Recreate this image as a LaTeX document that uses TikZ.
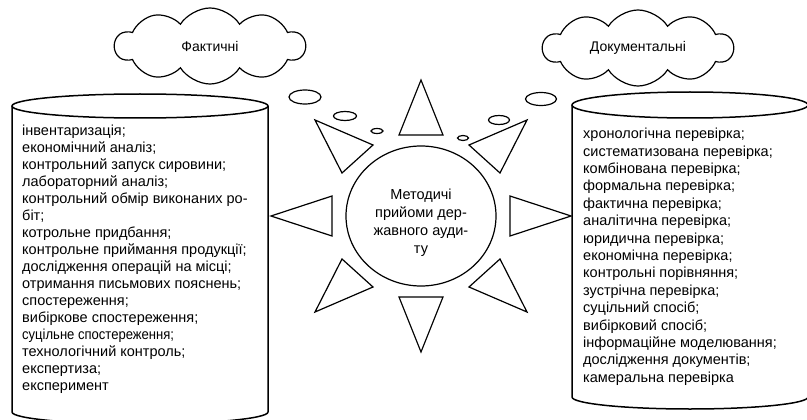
\documentclass[tikz,border=0pt]{standalone}
\usepackage{fontspec}
\setmainfont{Liberation Sans}
\newfontfamily\narrowfont[FakeStretch=0.9]{Liberation Sans}
\usetikzlibrary{shapes.geometric,shapes.symbols}

\begin{document}
\begin{tikzpicture}[x=1pt,y=-1pt]

\tikzstyle{cylline}=[line width=1.5pt]
\tikzstyle{raynode}=[line width=1.2pt,line join=miter]
\tikzstyle{sunnode}=[ellipse,draw,line width=1.2pt,inner sep=0mm,minimum width=150pt,minimum height=140pt]
\tikzstyle{cloudnode}=[cloud,draw,line width=1.2pt,cloud puffs=10,cloud puff arc=115,cloud ignores aspect,inner sep=0mm,minimum width=190pt,minimum height=76pt,font=\fontsize{14}{17}\selectfont]
\tikzstyle{bubble}=[ellipse,draw,line width=1.2pt,inner sep=0mm]
\tikzstyle{listnode}=[anchor=north west,align=left,inner sep=0mm,font=\fontsize{14.5}{17}\selectfont]

\useasboundingbox (0,0) rectangle (807,420);
\clip (0,0) rectangle (807,420);

% clouds and bubbles
\node [cloudnode] (fact) at (210,46){Фактичні};
\node [cloudnode] (doc) at (638,48){Документальні};

\node [bubble,minimum width=32pt,minimum height=14pt] (bl1) at (305,97){};
\node [bubble,minimum width=23pt,minimum height=9pt] (bl2) at (345,116){};
\node [bubble,minimum width=12pt,minimum height=5pt] (bl3) at (377,131){};
\node [bubble,minimum width=31pt,minimum height=13pt] (br1) at (541,99){};
\node [bubble,minimum width=21pt,minimum height=9pt] (br2) at (499,120){};
\node [bubble,minimum width=11pt,minimum height=5pt] (br3) at (463,138){};

% cylinders
\draw[cylline] (140,106) ellipse [x radius=128,y radius=12];
\draw[cylline] (12,106)--(12,412) arc [start angle=180,end angle=0,x radius=128,y radius=12]--(268,106);

\draw[cylline] (690,105) ellipse [x radius=118,y radius=13];
\draw[cylline] (572,105)--(572,397) arc [start angle=180,end angle=0,x radius=118,y radius=12]--(808,105);

\node [listnode] (leftlist) at (22,125){інвентаризація;\\економічний аналіз;\\контрольний запуск сировини;\\лабораторний аналіз;\\контрольний обмір виконаних ро-\\біт;\\котрольне придбання;\\контрольне приймання продукції;\\дослідження операцій на місці;\\отримання письмових пояснень;\\спостереження;\\вибіркове спостереження;\\{\narrowfont суцільне спостереження;}\\технологічний контроль;\\експертиза;\\експеримент};

\node [listnode,font=\fontsize{14.5}{17.4}\selectfont] (rightlist) at (583,128){хронологічна перевірка;\\систематизована перевірка;\\комбінована перевірка;\\формальна перевірка;\\фактична перевірка;\\аналітична перевірка;\\юридична перевірка;\\економічна перевірка;\\контрольні порівняння;\\зустрічна перевірка;\\суцільний спосіб;\\вибірковий спосіб;\\інформаційне моделювання;\\дослідження документів;\\камеральна перевірка};

% sun
\node [sunnode] (sun) at (421,216){};
\node [align=center,inner sep=0mm,font=\fontsize{14.5}{18}\selectfont] (suntxt) at (421,223){Методичі\\прийоми дер-\\жавного ауди-\\ту};

\draw[raynode] (421,80)--(399,135)--(443,135)--cycle;
\draw[raynode] (527,120)--(469,145)--(500,173)--cycle;
\draw[raynode] (571,216)--(510,196)--(510,236)--cycle;
\draw[raynode] (527,312)--(469,287)--(500,259)--cycle;
\draw[raynode] (421,352)--(399,297)--(443,297)--cycle;
\draw[raynode] (315,312)--(373,287)--(342,259)--cycle;
\draw[raynode] (271,216)--(332,196)--(332,236)--cycle;
\draw[raynode] (315,120)--(373,145)--(342,173)--cycle;

\end{tikzpicture}
\end{document}
